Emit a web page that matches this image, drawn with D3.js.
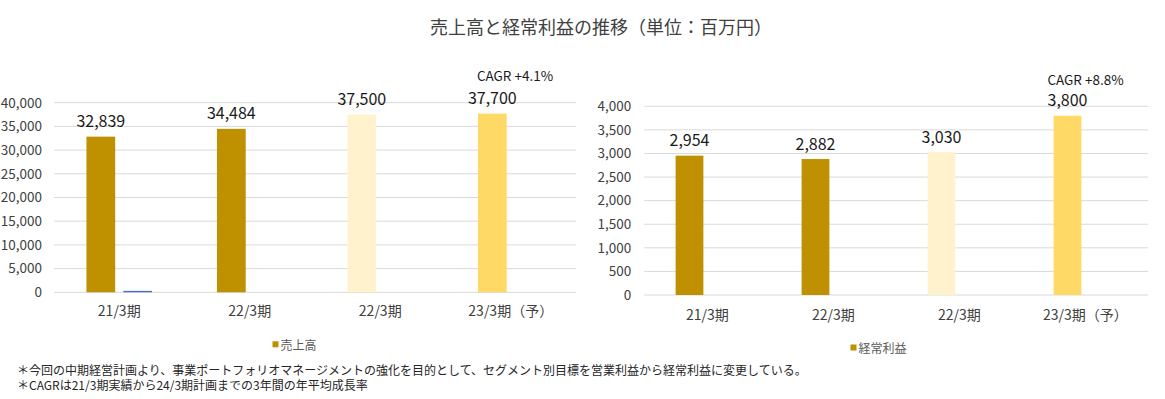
<!DOCTYPE html>
<html><head><meta charset="utf-8">
<script src="https://cdn.jsdelivr.net/npm/d3@7"></script>
<style>
html,body{margin:0;padding:0;background:#fff;}
svg{display:block;font-family:"Noto Sans CJK JP","Noto Sans",sans-serif;}
</style></head>
<body><svg id="c" width="1165" height="399"></svg>
<script>
const categories = ["21/3期","22/3期","22/3期","23/3期（予）"];
const salesValues = [32839, 34484, 37500, 37700];
const salesSecond = [300, 0, 0, 0];
const profitValues = [2954, 2882, 3030, 3800];
const profitSecond = [0, 0, 0, 0];
const barColors = ["#BF9000","#BF9000","#FFF2CC","#FFD966"];
const secondColor = "#4472C4";
const salesTicks = [0,5000,10000,15000,20000,25000,30000,35000,40000];
const profitTicks = [0,500,1000,1500,2000,2500,3000,3500,4000];
const titleText = "売上高と経常利益の推移（単位：百万円）";
const notes = ["＊今回の中期経営計画より、事業ポートフォリオマネージメントの強化を目的として、セグメント別目標を営業利益から経常利益に変更している。",
               "＊CAGRは21/3期実績から24/3期計画までの3年間の年平均成長率"];

const svg = d3.select("#c");
const fmt = d3.format(",");

svg.append("text").attr("x",601).attr("y",26).attr("text-anchor","middle")
  .attr("dominant-baseline","central").attr("font-size",18).attr("fill","#404040").text(titleText);

function panel(o){
  const g = svg.append("g");
  const x0 = d3.scaleBand().domain(d3.range(categories.length)).range([o.left,o.right]).padding(0);
  const x1 = d3.scaleBand().domain([0,1]).range([0,x0.bandwidth()]).paddingInner(0.22).paddingOuter(0.88);
  const y = d3.scaleLinear().domain([0,o.max]).range([o.bottom,o.top]);
  g.selectAll("line.grid").data(o.ticks).join("line")
    .attr("x1",o.left).attr("x2",o.right).attr("y1",d=>y(d)).attr("y2",d=>y(d))
    .attr("stroke","#D9D9D9").attr("stroke-width",1);
  const ya = g.append("g").attr("transform",`translate(${o.left},0)`)
    .call(d3.axisLeft(y).tickValues(o.ticks).tickSize(0).tickPadding(o.ypad).tickFormat(fmt));
  ya.select(".domain").remove();
  ya.selectAll("text").attr("font-size",13.5).attr("fill","#404040").attr("font-family","\"Noto Sans CJK JP\",sans-serif");
  const xa = g.append("g").attr("transform",`translate(0,${o.bottom})`)
    .call(d3.axisBottom(x0).tickSize(0).tickPadding(o.xpad).tickFormat(i=>categories[i]));
  xa.select(".domain").remove();
  xa.selectAll("text").attr("font-size",14).attr("fill","#404040").attr("font-family","\"Noto Sans CJK JP\",sans-serif");
  g.selectAll("rect.s1").data(o.values).join("rect")
    .attr("x",(d,i)=>x0(i)+x1(0)).attr("width",x1.bandwidth())
    .attr("y",d=>y(d)).attr("height",d=>y(0)-y(d)).attr("fill",(d,i)=>barColors[i]);
  g.selectAll("rect.s2").data(o.second).join("rect")
    .attr("x",(d,i)=>x0(i)+x1(1)).attr("width",x1.bandwidth())
    .attr("y",d=>y(d)).attr("height",d=>y(0)-y(d)).attr("fill",secondColor);
  g.selectAll("text.v").data(o.values).join("text")
    .attr("x",(d,i)=>x0(i)+x1(0)+x1.bandwidth()/2).attr("y",d=>y(d)-9.5)
    .attr("text-anchor","middle").attr("font-size",16).attr("fill","#1a1a1a").text(d=>fmt(d));
  g.append("text").attr("x",o.cagrX).attr("y",o.cagrY).attr("text-anchor","middle")
    .attr("dominant-baseline","central").attr("font-size",13.5).attr("fill","#1a1a1a").text(o.cagr);
  g.append("rect").attr("x",o.legX).attr("y",o.legY-3).attr("width",6).attr("height",6).attr("fill",barColors[0]);
  g.append("text").attr("x",o.legX+8).attr("y",o.legY).attr("dominant-baseline","central")
    .attr("font-size",12).attr("fill","#595959").text(o.legend);
}

panel({left:54,right:576,top:102.7,bottom:292.3,max:40000,ticks:salesTicks,values:salesValues,second:salesSecond,
  ypad:12,xpad:14,cagr:"CAGR +4.1%",cagrX:515,cagrY:75,legX:272.5,legY:344.3,legend:"売上高"});
panel({left:644.3,right:1148.3,top:106.3,bottom:295,max:4000,ticks:profitTicks,values:profitValues,second:profitSecond,
  ypad:13,xpad:15,cagr:"CAGR +8.8%",cagrX:1085.5,cagrY:78.5,legX:850.5,legY:347.5,legend:"経常利益"});

svg.selectAll("text.note").data(notes).join("text").attr("class","note")
  .attr("x",17).attr("y",(d,i)=>369.3+i*15.4).attr("dominant-baseline","central")
  .attr("font-size",12).attr("fill","#262626").text(d=>d);
</script></body></html>
